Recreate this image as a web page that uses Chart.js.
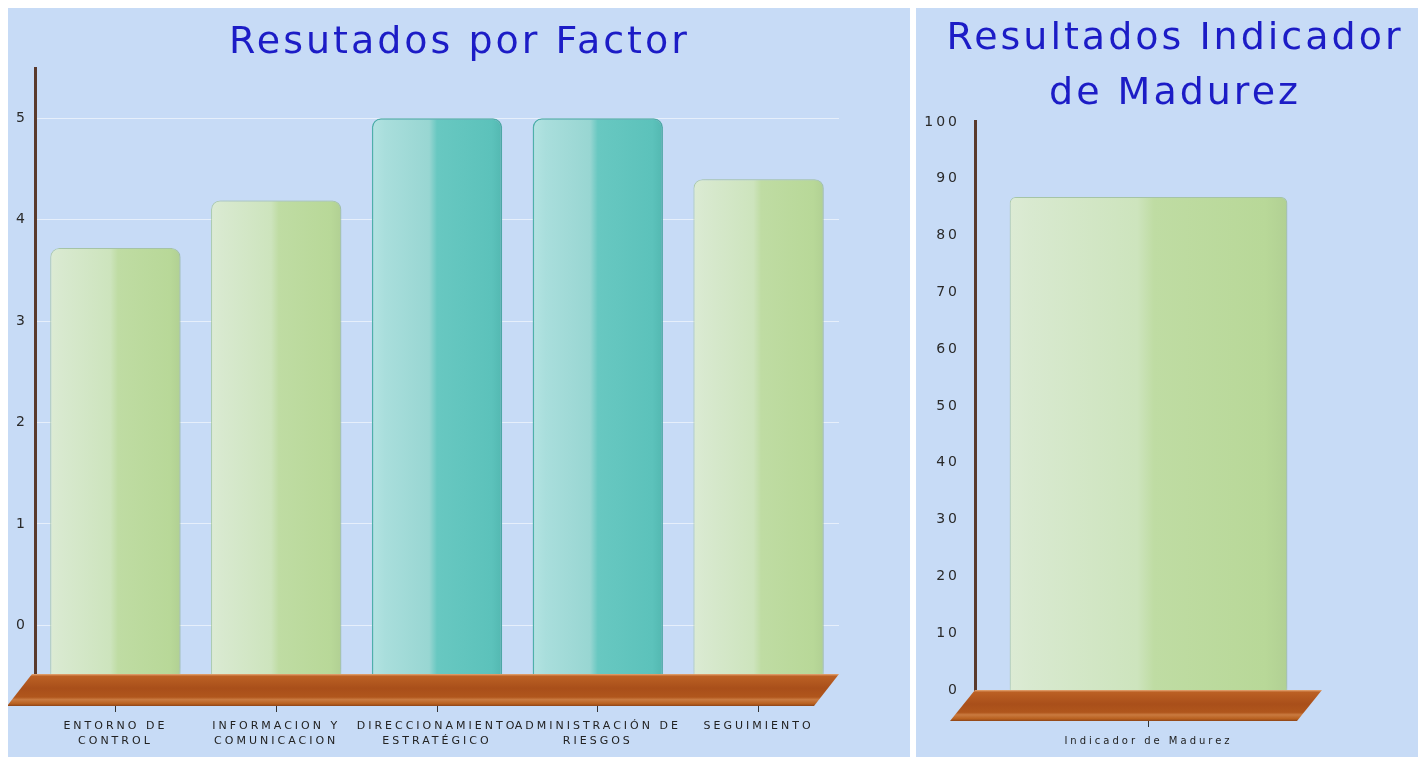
<!DOCTYPE html>
<html>
<head>
<meta charset="utf-8">
<script src="https://cdn.jsdelivr.net/npm/chart.js@4.4.1/dist/chart.umd.min.js"></script>
<style>
  html, body { margin: 0; padding: 0; background: #fff; overflow: hidden; }
  body { width: 1418px; height: 757px; position: relative; }
  .panel { position: absolute; top: 8px; height: 749px; background: #c7dbf6; overflow: hidden; }
  #left { left: 8px; width: 902px; }
  #right { left: 916px; width: 502px; }
  .panel canvas { position: absolute; left: 0; top: 0; }
</style>
</head>
<body>
<div class="panel" id="left"><canvas id="factorChart" width="903" height="749" style="width:903px;height:749px"></canvas></div>
<div class="panel" id="right"><canvas id="madurezChart" width="518" height="749" style="width:518px;height:749px"></canvas></div>
<script>
// Data
const factorLabels = [
    ['ENTORNO DE', 'CONTROL'],
    ['INFORMACION Y', 'COMUNICACION'],
    ['DIRECCIONAMIENTO', 'ESTRATÉGICO'],
    ['ADMINISTRACIÓN DE', 'RIESGOS'],
    'SEGUIMIENTO'
];
const factorValues = [3.72, 4.19, 5, 5, 4.4];
const factorTicks = [0, 1, 2, 3, 4, 5];
const factorMin = -0.48;
const factorMax = 5.49;

const madurezLabels = ['Indicador de Madurez'];
const madurezValues = [86.8];
const madurezTicks = [0, 10, 20, 30, 40, 50, 60, 70, 80, 90, 100];

const FONT = "'DejaVu Sans', Verdana, sans-serif";
const TITLE_COLOR = '#1c1cc6';

const greenStops = [[0, '#dcebd4'], [0.08, '#d8e9cf'], [0.46, '#cde4bd'], [0.52, '#bfdca3'], [0.92, '#b8d898'], [1, '#b1d093']];
const tealStops = [[0, '#b4e3e2'], [0.1, '#a9dedc'], [0.44, '#98d6d2'], [0.5, '#68c8c1'], [0.92, '#5cc2bb'], [1, '#53b8b1']];

// gradient across one bar, left light / right dark
function barFill(context, pct, stops) {
    const chart = context.chart;
    const area = chart.chartArea;
    if (!area || !chart.scales.x) return stops[3][1];
    const n = chart.data.labels.length;
    const cx = chart.scales.x.getPixelForValue(context.dataIndex);
    const half = (area.width / n) * pct / 2;
    const g = chart.ctx.createLinearGradient(cx - half, 0, cx + half, 0);
    stops.forEach(s => g.addColorStop(s[0], s[1]));
    return g;
}

// 3D brown floor under the bars
const floorPlugin = {
    id: 'floor',
    afterDraw(chart, args, opts) {
        const {ctx, chartArea: a} = chart;
        const d = opts.depth, s = opts.slant, l = a.left - opts.shiftLeft;
        ctx.save();
        const g = ctx.createLinearGradient(0, a.bottom, 0, a.bottom + d);
        g.addColorStop(0, '#e6a877');
        g.addColorStop(0.07, '#bb6024');
        g.addColorStop(0.45, '#a94f1a');
        g.addColorStop(0.72, '#b0561c');
        g.addColorStop(0.8, '#c97a40');
        g.addColorStop(0.93, '#b8601f');
        g.addColorStop(1, '#8c4418');
        ctx.fillStyle = g;
        ctx.beginPath();
        ctx.moveTo(l, a.bottom);
        ctx.lineTo(a.right, a.bottom);
        ctx.lineTo(a.right - s, a.bottom + d);
        ctx.lineTo(l - s, a.bottom + d);
        ctx.closePath();
        ctx.fill();
        ctx.restore();
    }
};

// wide letter spacing like the original rendering
const spacingPlugin = {
    id: 'spacing',
    beforeDraw(chart) {
        chart.ctx.letterSpacing = '3px';
    }
};

const shadowPlugin = {
    id: 'barShadow',
    beforeDatasetsDraw(chart) {
        const ctx = chart.ctx;
        ctx.save();
        ctx.shadowColor = 'rgba(70, 100, 130, 0.28)';
        ctx.shadowBlur = 7;
        ctx.shadowOffsetX = 2;
    },
    afterDatasetsDraw(chart) {
        chart.ctx.restore();
    }
};

// empty axis on the right, only reserves room so the title stays centred on the panel
function spacerAxis(width) {
    return {
        type: 'linear',
        position: 'right',
        grid: {display: false},
        border: {display: false},
        ticks: {display: false},
        afterFit: s => { s.width = width; }
    };
}

window.onload = function() {
    drawFactorChart();
    drawMadurezChart();
};

function drawFactorChart() {
    const isTop = c => c.raw >= 5;
    new Chart(document.getElementById('factorChart'), {
        type: 'bar',
        data: {
            labels: factorLabels,
            datasets: [{
                data: factorValues,
                base: factorMin,
                backgroundColor: c => barFill(c, 0.81, isTop(c) ? tealStops : greenStops),
                borderColor: c => isTop(c) ? '#4fb5ad' : 'rgba(170, 205, 140, 0.7)',
                borderWidth: c => isTop(c) ? 1.5 : 1,
                borderSkipped: 'start',
                borderRadius: {topLeft: 9, topRight: 9},
                barPercentage: 0.81,
                categoryPercentage: 1
            }]
        },
        options: {
            responsive: false,
            animation: false,
            layout: {padding: 0},
            plugins: {
                legend: {display: false},
                tooltip: {enabled: false},
                title: {
                    display: true,
                    text: 'Resutados por Factor',
                    color: TITLE_COLOR,
                    font: {family: FONT, size: 38, weight: 'normal', lineHeight: 1.2},
                    padding: {top: 12, bottom: 3}
                },
                floor: {depth: 32, slant: 25, shiftLeft: 3}
            },
            scales: {
                x: {
                    grid: {drawOnChartArea: false, offset: false, color: '#333', tickLength: 38},
                    border: {display: false},
                    ticks: {
                        color: '#222',
                        font: {family: FONT, size: 11, lineHeight: 1.4},
                        padding: 6,
                        maxRotation: 0,
                        autoSkip: false
                    },
                    afterFit: s => { s.height = 83; }
                },
                y: {
                    min: factorMin,
                    max: factorMax,
                    afterBuildTicks: s => { s.ticks = factorTicks.map(v => ({value: v})); },
                    grid: {color: 'rgba(255, 255, 255, 0.55)', lineWidth: 1, drawTicks: false},
                    border: {color: '#5a3a2c', width: 3},
                    ticks: {color: '#2a2a2a', font: {family: FONT, size: 14}, padding: 7},
                    afterFit: s => { s.width = 27; }
                },
                yRight: spacerAxis(72)
            }
        },
        plugins: [spacingPlugin, shadowPlugin, floorPlugin]
    });
}

function drawMadurezChart() {
    new Chart(document.getElementById('madurezChart'), {
        type: 'bar',
        data: {
            labels: madurezLabels,
            datasets: [{
                data: madurezValues,
                backgroundColor: c => barFill(c, 0.8, greenStops),
                borderColor: 'rgba(170, 205, 140, 0.7)',
                borderWidth: 1,
                borderSkipped: 'start',
                borderRadius: {topLeft: 6, topRight: 6},
                barPercentage: 0.8,
                categoryPercentage: 1
            }]
        },
        options: {
            responsive: false,
            animation: false,
            layout: {padding: 0},
            plugins: {
                legend: {display: false},
                tooltip: {enabled: false},
                title: {
                    display: true,
                    text: ['Resultados Indicador', 'de Madurez'],
                    color: TITLE_COLOR,
                    font: {family: FONT, size: 38, weight: 'normal', lineHeight: 1.46},
                    padding: {top: 3, bottom: 0}
                },
                floor: {depth: 31, slant: 25, shiftLeft: 0}
            },
            scales: {
                x: {
                    grid: {drawOnChartArea: false, offset: false, color: '#333', tickLength: 37},
                    border: {display: false},
                    ticks: {
                        color: '#222',
                        font: {family: FONT, size: 10, lineHeight: 1.3},
                        padding: 8,
                        maxRotation: 0,
                        autoSkip: false
                    },
                    afterFit: s => { s.height = 67; }
                },
                y: {
                    min: 0,
                    max: 100,
                    afterBuildTicks: s => { s.ticks = madurezTicks.map(v => ({value: v})); },
                    grid: {display: false},
                    border: {color: '#5a3a2c', width: 3},
                    ticks: {color: '#2a2a2a', font: {family: FONT, size: 14}, padding: 7},
                    afterFit: s => { s.width = 59; }
                },
                yRight: spacerAxis(112)
            }
        },
        plugins: [spacingPlugin, shadowPlugin, floorPlugin]
    });
}
</script>
</body>
</html>
